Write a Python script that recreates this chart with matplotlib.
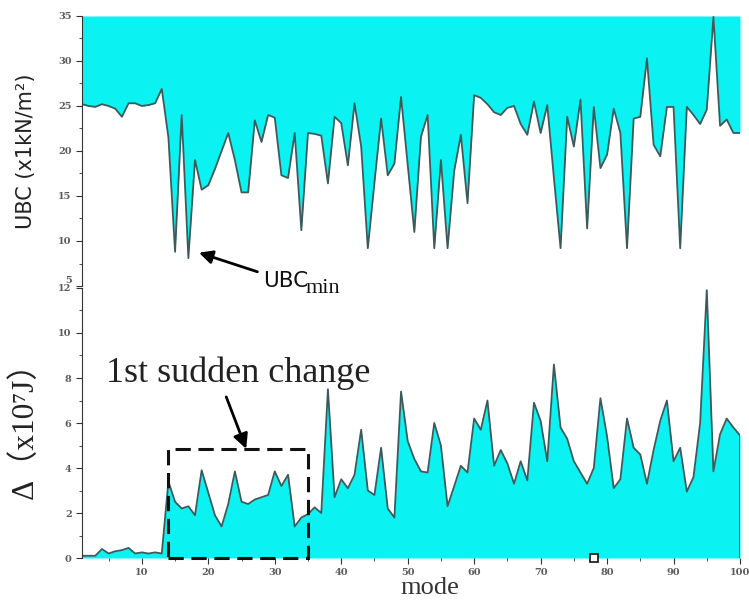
import matplotlib
matplotlib.use('Agg')
import numpy as np
import matplotlib.pyplot as plt
from matplotlib.patches import Rectangle
from matplotlib.ticker import MultipleLocator
from matplotlib.transforms import ScaledTranslation

plt.rcParams['mathtext.fontset'] = 'stix'

# mode number 1..100
mode = np.arange(1, 101)

# ultimate bearing capacity per mode (x1 kN/m^2)
ubc = [25.2, 25.0, 24.9, 25.2, 25.0, 24.7, 23.8, 25.3, 25.3, 25.0,
       25.1, 25.3, 26.9, 21.5, 8.8, 24.0, 8.1, 19.0, 15.7, 16.2,
       18.0, 20.0, 22.0, 19.0, 15.4, 15.4, 23.4, 21.0, 24.0, 23.7,
       17.3, 17.0, 22.0, 11.2, 22.0, 21.9, 21.7, 16.4, 23.8, 23.1,
       18.4, 25.3, 20.5, 9.2, 16.5, 23.6, 17.3, 18.6, 26.0, 18.5,
       11.0, 21.6, 24.0, 9.2, 19.0, 9.2, 17.8, 21.8, 14.2, 26.2,
       25.9, 25.2, 24.3, 24.0, 24.8, 25.0, 23.0, 21.8, 25.5, 22.0,
       25.1, 17.0, 9.2, 23.8, 20.5, 25.7, 11.4, 24.9, 18.1, 19.6,
       24.7, 22.0, 9.2, 23.6, 23.8, 30.3, 20.7, 19.4, 24.9, 24.9,
       9.2, 24.9, 24.0, 23.0, 24.6, 34.9, 22.8, 23.5, 22.0, 22.0]

# energy change per mode (x10^7 J)
delta = [0.1, 0.1, 0.1, 0.4, 0.2, 0.3, 0.35, 0.45, 0.2, 0.25,
         0.2, 0.25, 0.2, 3.4, 2.5, 2.2, 2.3, 1.9, 3.9, 2.9,
         1.9, 1.4, 2.4, 3.85, 2.5, 2.4, 2.6, 2.7, 2.8, 3.85,
         3.2, 3.7, 1.4, 1.8, 1.95, 2.25, 2.0, 7.5, 2.7, 3.5,
         3.1, 3.7, 5.7, 3.0, 2.8, 4.9, 2.2, 1.8, 7.4, 5.2,
         4.4, 3.85, 3.8, 6.0, 5.0, 2.3, 3.2, 4.1, 3.8, 6.2,
         5.7, 7.0, 4.1, 4.8, 4.2, 3.3, 4.3, 3.45, 6.9, 6.1,
         4.3, 8.6, 5.8, 5.3, 4.3, 3.8, 3.3, 4.0, 7.1, 5.4,
         3.1, 3.5, 6.2, 4.9, 4.6, 3.3, 4.8, 6.1, 7.0, 4.3,
         4.9, 2.95, 3.6, 6.0, 11.9, 3.85, 5.5, 6.2, 5.8, 5.45]

# first sudden change window (mode range, height) and the odd marker on the axis
box_modes = (14, 35)
box_top = 4.85
marker_mode = 78

fill_c = '#0af2f2'
line_c = '#3d5a5a'
tick_font = dict(family='DejaVu Serif', size=7, weight='bold', color='#5a5a5a')

fig = plt.figure(figsize=(7.49, 6.03), dpi=100)
ax2 = fig.add_axes([0.1095, 0.0746, 0.8785, 0.4478])
ax1 = fig.add_axes([0.1095, 0.5257, 0.8785, 0.4478])
ax1.patch.set_visible(False)
ax2.patch.set_visible(False)

# --- top panel: UBC, filled from the curve up to the top of the axis
ax1.fill_between(mode, ubc, 35, color=fill_c, lw=0)
ax1.plot(mode, ubc, color=line_c, lw=1.3)
ax1.set_xlim(1, 100)
ax1.set_ylim(5, 35)
ax1.set_yticks([5, 10, 15, 20, 25, 30, 35])
ax1.yaxis.set_minor_locator(MultipleLocator(2.5))
ax1.set_xticks([])
for s in ['top', 'right', 'bottom']:
    ax1.spines[s].set_visible(False)
ax1.spines['left'].set_color('#333333')
ax1.tick_params(axis='y', which='major', direction='out', length=4, color='#333333')
ax1.tick_params(axis='y', which='minor', direction='out', length=2, color='#333333')
for lab in ax1.get_yticklabels():
    lab.set(**tick_font)
ax1.set_ylabel('UBC (x1kN/m²)', family='DejaVu Sans', fontsize=15, color='#222222')
ax1.yaxis.set_label_coords(-0.07, 0.5)

ax1.annotate('UBC', xy=(18.6, 8.7), xytext=(28.2, 4.9),
             fontsize=15.5, family='DejaVu Sans', color='#111111', va='baseline', ha='left',
             annotation_clip=False,
             arrowprops=dict(arrowstyle='-|>', color='black', lw=2, mutation_scale=20,
                             shrinkA=2, shrinkB=0))
ax1.text(34.6, 4.25, 'min', family='Liberation Serif', fontsize=16, color='#111111',
         va='baseline', ha='left', clip_on=False)

# --- bottom panel: energy change, filled down to zero
ax2.fill_between(mode, delta, 0, color=fill_c, lw=0)
ax2.plot(mode, delta, color=line_c, lw=1.3)
ax2.vlines(mode[-1], 0, delta[-1], color=line_c, lw=1.3)
ax2.set_xlim(1, 100)
ax2.set_ylim(0, 12)
ax2.xaxis.set_minor_locator(MultipleLocator(5))
ax2.yaxis.set_major_locator(MultipleLocator(2))
ax2.yaxis.set_minor_locator(MultipleLocator(1))
for s in ['top', 'right', 'bottom']:
    ax2.spines[s].set_visible(False)
ax2.spines['left'].set_color('#333333')
ax2.tick_params(which='major', direction='out', length=4, color='#333333')
ax2.tick_params(which='minor', direction='out', length=2, color='#333333')
ax2.set_xticks([10, 20, 30, 40, 50, 60, 70, 80, 90, 100])
for lab in ax2.get_xticklabels() + ax2.get_yticklabels():
    lab.set(**tick_font)

# the "5" and "12" labels sit close where the two panels meet; pull them apart a little
lab5 = ax1.get_yticklabels()[0]
lab5.set_transform(lab5.get_transform() + ScaledTranslation(0, 7 / 100, fig.dpi_scale_trans))
lab12 = ax2.get_yticklabels()[-1]
lab12.set_transform(lab12.get_transform() + ScaledTranslation(0, -5 / 100, fig.dpi_scale_trans))

ax2.set_ylabel('Δ（x10⁷J）', family=['Liberation Serif', 'Noto Sans CJK SC', 'DejaVu Serif'],
               fontsize=22.5, color='#222222')
ax2.yaxis.set_label_coords(-0.064, 0.5)
ax2.set_xlabel('mode', family='Liberation Serif', fontsize=19, color='#333333')
ax2.xaxis.set_label_coords(0.528, -0.07)

ax2.add_patch(Rectangle((box_modes[0], 0), box_modes[1] - box_modes[0], box_top,
                        fill=False, ec='#111111', lw=2.2, ls=(0, (5, 2.5)),
                        clip_on=False, zorder=4))
ax2.text(24.5, 7.82, '1st sudden change', family='Liberation Serif', fontsize=26,
         color='#222222', ha='center', va='baseline')
ax2.annotate('', xy=(25.7, box_top), xytext=(22.7, 7.16),
             arrowprops=dict(arrowstyle='-|>', color='black', lw=2, mutation_scale=22,
                             shrinkA=0, shrinkB=0))

ax2.plot([marker_mode], [0], marker='s', ms=6, mfc='white', mec='#111111', mew=1.2,
         clip_on=False, zorder=5)

plt.savefig('out.png', dpi=100)
plt.close()
